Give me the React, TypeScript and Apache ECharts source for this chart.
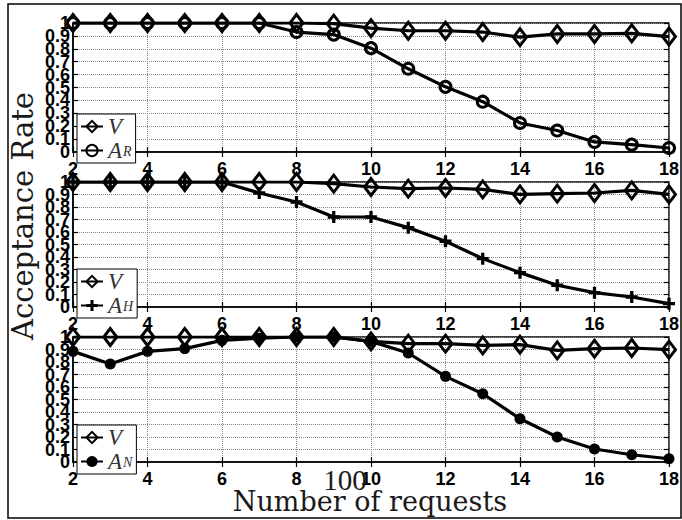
import React, { useEffect, useRef } from "react";
import * as echarts from "echarts";

const xValues = [2, 3, 4, 5, 6, 7, 8, 9, 10, 11, 12, 13, 14, 15, 16, 17, 18];
const yTicks = { min: 0, max: 1, interval: 0.1 };
const yEndLabels = [0, 1];
const xTicks = { min: 2, max: 18, interval: 2 };

const panel1V = [1, 1, 1, 1, 1, 1, 1, 0.995, 0.96, 0.94, 0.94, 0.93, 0.89, 0.915, 0.915, 0.92, 0.895];
const panel1AR = [1, 1, 1, 1, 1, 1, 0.93, 0.91, 0.805, 0.645, 0.505, 0.39, 0.225, 0.167, 0.078, 0.057, 0.031];
const panel2V = [1, 1, 1, 1, 1, 1, 1, 0.987, 0.96, 0.947, 0.952, 0.941, 0.901, 0.907, 0.912, 0.933, 0.901];
const panel2AH = [1, 1, 1, 1, 1, 0.912, 0.84, 0.72, 0.72, 0.635, 0.526, 0.387, 0.275, 0.174, 0.115, 0.08, 0.027];
const panel3V = [1, 1, 1, 1, 1, 1, 1, 1, 0.965, 0.947, 0.947, 0.933, 0.939, 0.893, 0.907, 0.912, 0.899];
const panel3AN = [0.885, 0.784, 0.885, 0.907, 0.973, 0.99, 1, 1, 0.965, 0.872, 0.685, 0.546, 0.346, 0.2, 0.104, 0.058, 0.026];

const seriesNames = ["V", "A_R", "A_H", "A_N"];
const yAxisTitle = "Acceptance Rate";
const xAxisTitle = "Number of requests";
const strayText = "100";

const grids = [
  { top: 23, height: 129 },
  { top: 182, height: 125 },
  { top: 337, height: 125 },
];
const legendTops = [114, 269, 425];

const PLUS = "path://M4,0h3v4h4v3h-4v4h-3v-4h-4v-3h4z";

function pair(ys: number[]) {
  return xValues.map((x, i) => [x, ys[i]]);
}

export default function App() {
  const ref = useRef<HTMLDivElement>(null);
  useEffect(() => {
    if (!ref.current) return;
    const chart = echarts.init(ref.current, null, { renderer: "svg" });
    const boldLabel = {
      fontFamily: "Liberation Sans",
      fontWeight: "bold" as const,
      fontSize: 18,
      color: "#000",
    };
    const gridOpts = grids.map((g) => ({
      left: 73,
      right: 12,
      top: g.top,
      height: g.height,
      show: true,
      borderColor: "#000",
      borderWidth: 1.5,
      backgroundColor: "#fff",
    }));
    const xAxes: any[] = [];
    const yAxes: any[] = [];
    // primary axes (0..2)
    grids.forEach((_, i) => {
      xAxes.push({
        type: "value",
        gridIndex: i,
        ...xTicks,
        axisLine: { show: true, lineStyle: { color: "#000", width: 1.5 } },
        axisTick: { inside: true, length: 5, lineStyle: { color: "#000", width: 1.2 } },
        axisLabel: { ...boldLabel, margin: 8 },
        splitLine: { show: true, lineStyle: { type: "dotted", color: "#888", width: 1 } },
      });
      yAxes.push({
        type: "value",
        gridIndex: i,
        ...yTicks,
        axisLine: { show: true, lineStyle: { color: "#000", width: 1.5 } },
        axisTick: { inside: true, length: 5, lineStyle: { color: "#000", width: 1.2 } },
        axisLabel: { ...boldLabel, margin: 3, showMinLabel: false, showMaxLabel: false },
        splitLine: { show: true, lineStyle: { type: "dotted", color: "#888", width: 1 } },
      });
    });
    // mirrored tick axes (3..5)
    grids.forEach((_, i) => {
      xAxes.push({
        type: "value",
        gridIndex: i,
        position: "top",
        ...xTicks,
        axisLine: { show: false },
        axisTick: { inside: true, length: 5, lineStyle: { color: "#000", width: 1.2 } },
        axisLabel: { show: false },
        splitLine: { show: false },
      });
      yAxes.push({
        type: "value",
        gridIndex: i,
        position: "right",
        ...yTicks,
        axisLine: { show: false },
        axisTick: { inside: true, length: 5, lineStyle: { color: "#000", width: 1.2 } },
        axisLabel: { show: false },
        splitLine: { show: false },
      });
    });
    // end labels 0 and 1 (6..8)
    grids.forEach((_, i) => {
      yAxes.push({
        type: "value",
        gridIndex: i,
        position: "left",
        ...yTicks,
        axisLine: { show: false },
        axisTick: { show: false },
        axisLabel: { ...boldLabel, margin: 3, customValues: yEndLabels },
        splitLine: { show: false },
      });
    });

    const lineStyle = { color: "#000", width: 3.2 };
    const vSeries = (idx: number, data: number[]) => ({
      name: seriesNames[0],
      type: "line",
      xAxisIndex: idx,
      yAxisIndex: idx,
      data: pair(data),
      symbol: "diamond",
      symbolSize: [13, 17],
      itemStyle: { color: "rgba(0,0,0,0)", borderColor: "#000", borderWidth: 3 },
      lineStyle,
      z: 3,
    });
    const series: any[] = [
      vSeries(0, panel1V),
      {
        name: seriesNames[1],
        type: "line",
        xAxisIndex: 0,
        yAxisIndex: 0,
        data: pair(panel1AR),
        symbol: "circle",
        symbolSize: 11,
        itemStyle: { color: "rgba(0,0,0,0)", borderColor: "#000", borderWidth: 3 },
        lineStyle,
        z: 4,
      },
      vSeries(1, panel2V),
      {
        name: seriesNames[2],
        type: "line",
        xAxisIndex: 1,
        yAxisIndex: 1,
        data: pair(panel2AH),
        symbol: PLUS,
        symbolSize: 12,
        itemStyle: { color: "#000", borderWidth: 0 },
        lineStyle,
        z: 4,
      },
      vSeries(2, panel3V),
      {
        name: seriesNames[3],
        type: "line",
        xAxisIndex: 2,
        yAxisIndex: 2,
        data: pair(panel3AN),
        symbol: "circle",
        symbolSize: 11,
        itemStyle: { color: "#000", borderWidth: 0 },
        lineStyle,
        z: 4,
      },
    ];

    const rich = {
      i: {
        fontFamily: "Liberation Serif",
        fontStyle: "italic" as const,
        fontSize: 23,
        lineHeight: 16,
        color: "#333",
      },
      s: {
        fontFamily: "Liberation Serif",
        fontStyle: "italic" as const,
        fontSize: 14,
        lineHeight: 1,
        verticalAlign: "bottom" as const,
        color: "#333",
        padding: [0, 0, 0, 1],
      },
    };
    const fmt = (name: string) => {
      const parts = name.split("_");
      if (parts.length === 2) return `{i|${parts[0]}}{s|${parts[1]}}`;
      return `{i|${name}}`;
    };
    const legends = legendTops.map((top, i) => ({
      left: 77,
      top,
      orient: "vertical",
      selectedMode: false,
      data: [seriesNames[0], seriesNames[i + 1]],
      itemWidth: 22,
      itemHeight: 14,
      itemGap: 1,
      padding: [1, 4, 1, 3],
      borderColor: "#000",
      borderWidth: 1,
      backgroundColor: "#fff",
      formatter: fmt,
      textStyle: { rich, lineHeight: 16 },
    }));

    chart.setOption({
      animation: false,
      backgroundColor: "#fff",
      grid: gridOpts,
      xAxis: xAxes,
      yAxis: yAxes,
      legend: legends,
      series,
      graphic: [
        {
          type: "rect",
          shape: { x: 8, y: 4, width: 673, height: 514 },
          style: { fill: "none", stroke: "#000", lineWidth: 1.5 },
          silent: true,
          z: 0,
        },
        {
          type: "text",
          x: 23,
          y: 216,
          rotation: Math.PI / 2,
          style: {
            text: yAxisTitle,
            fontFamily: "DejaVu Serif",
            fontSize: 29,
            fill: "#1a1a1a",
            align: "center",
            verticalAlign: "middle",
          },
          z: 10,
        },
        {
          type: "text",
          x: 370,
          y: 501,
          style: {
            text: xAxisTitle,
            fontFamily: "DejaVu Serif",
            fontSize: 27,
            fill: "#1a1a1a",
            align: "center",
            verticalAlign: "middle",
          },
          z: 10,
        },
        {
          type: "text",
          x: 345,
          y: 480,
          style: {
            text: strayText,
            fontFamily: "Liberation Serif",
            fontSize: 29,
            fill: "#1a1a1a",
            align: "center",
            verticalAlign: "middle",
          },
          z: 10,
        },
      ],
    });
    return () => chart.dispose();
  }, []);
  return (
    <div
      ref={ref}
      style={{ position: "fixed", left: 0, top: 0, width: 682, height: 520 }}
    />
  );
}
